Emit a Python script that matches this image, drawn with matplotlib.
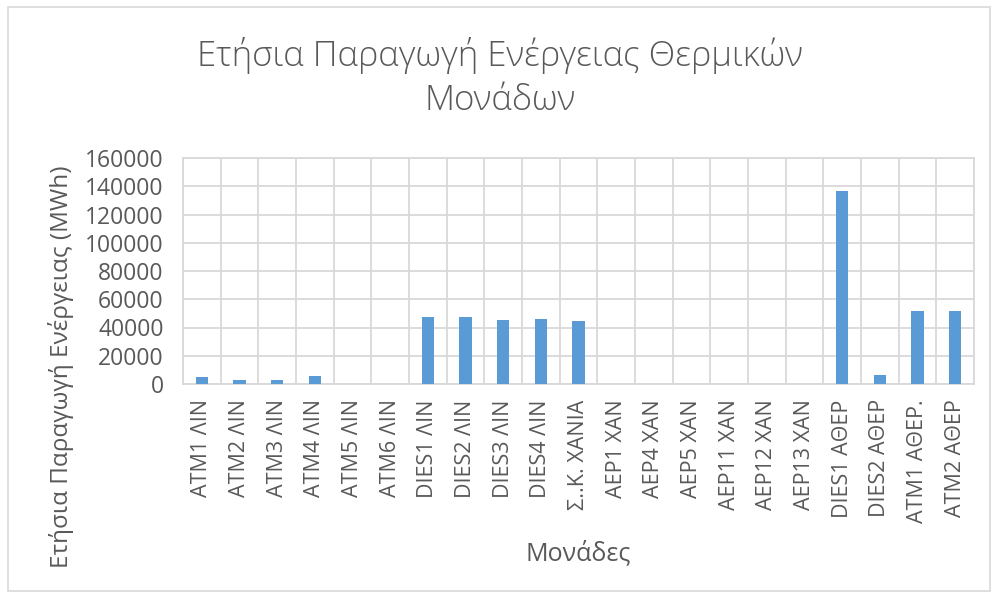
import matplotlib.pyplot as plt
from matplotlib.patches import Rectangle

# units and yearly energy (MWh)
units = ['ATM1 ΛΙΝ', 'ATM2 ΛΙΝ', 'ATM3 ΛΙΝ', 'ATM4 ΛΙΝ', 'ATM5 ΛΙΝ', 'ATM6 ΛΙΝ',
         'DIES1 ΛΙΝ', 'DIES2 ΛΙΝ', 'DIES3 ΛΙΝ', 'DIES4 ΛΙΝ', 'Σ..Κ. ΧΑΝΙΑ',
         'ΑΕΡ1 ΧΑΝ', 'ΑΕΡ4 ΧΑΝ', 'ΑΕΡ5 ΧΑΝ', 'ΑΕΡ11 ΧΑΝ', 'ΑΕΡ12 ΧΑΝ', 'ΑΕΡ13 ΧΑΝ',
         'DIES1 ΑΘΕΡ', 'DIES2 ΑΘΕΡ', 'ATM1 ΑΘΕΡ.', 'ATM2 ΑΘΕΡ']
energy = [4800, 2900, 2900, 5800, 0, 0,
          47100, 47100, 45200, 46200, 44300,
          0, 0, 0, 0, 0, 0,
          136500, 6600, 51900, 51900]
yticks = [0, 20000, 40000, 60000, 80000, 100000, 120000, 140000, 160000]

txt = '#595959'
grid = '#D9D9D9'
plt.rcParams['font.family'] = ['Open Sans', 'DejaVu Sans']

fig = plt.figure(figsize=(9.92, 5.99), dpi=100)
ax = fig.add_axes([183/992, 1-384/599, 791/992, 226/599])

x = list(range(len(units)))
ax.bar(x, energy, width=0.32, color='#5B9BD5', zorder=3)

ax.set_xlim(-0.5, len(units) - 0.5)
ax.set_ylim(0, 160000)
ax.set_yticks(yticks)
ax.set_yticklabels([str(v) for v in yticks], fontsize=16.5, color=txt)
ax.set_xticks(x)
ax.set_xticklabels(units, rotation=90, fontsize=15.5, color=txt)
ax.tick_params(axis='y', length=0, pad=14)
ax.tick_params(axis='x', length=0, pad=11)

# excel-like grid: horizontal every tick and vertical at category borders
ax.grid(axis='y', color=grid, linewidth=1.3, zorder=0)
for b in range(len(units) + 1):
    ax.axvline(b - 0.5, color=grid, linewidth=1.3, zorder=0)
for s in ax.spines.values():
    s.set_color(grid)
    s.set_linewidth(1.3)

fig.text(578/992, 1 - 553/599, 'Μονάδες', ha='center', va='center', fontsize=18, color=txt)
fig.text(61/992, 1 - 367/599, 'Ετήσια Παραγωγή Ενέργειας (MWh)', ha='center', va='center',
         rotation=90, fontsize=17.5, color=txt)
fig.text(500/992, 1 - 56/599, 'Ετήσια Παραγωγή Ενέργειας Θερμικών',
         ha='center', va='center', fontsize=25, color=txt, fontweight='light')
fig.text(500/992, 1 - 101/599, 'Μονάδων',
         ha='center', va='center', fontsize=25, color=txt, fontweight='light')

fig.patches.append(Rectangle((8/992, 8/599), 982/992, 584/599, transform=fig.transFigure,
                             fill=False, edgecolor=grid, linewidth=1.2))

fig.savefig('out.png', dpi=100, facecolor='white')
